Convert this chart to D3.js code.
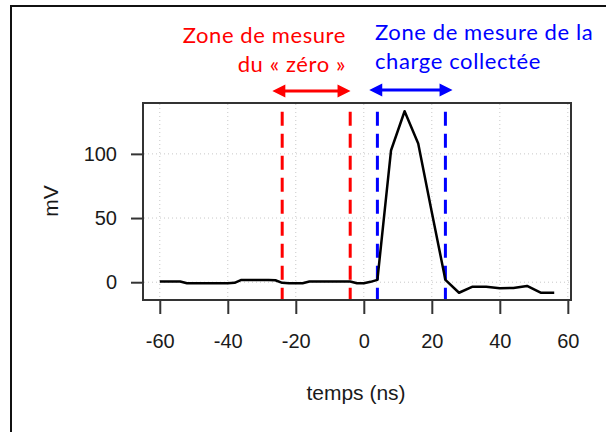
<!doctype html>
<html lang="fr">
  <head>
    <meta charset="UTF-8" />
    <title>Signal - zones de mesure</title>
    <script src="https://unpkg.com/d3@7.9.0/dist/d3.min.js"></script>
    <style>
      body {
        margin: 0;
        background: #fff;
      }
      .tick text {
        font-family: 'Liberation Sans', Arial, sans-serif;
        font-size: 20px;
        fill: #1a1a1a;
      }
      .tick line {
        stroke: #333;
        stroke-width: 2;
      }
      .axis-title {
        font-family: 'Liberation Sans', Arial, sans-serif;
        font-size: 21px;
        fill: #1a1a1a;
      }
      .note {
        font-family: Lato, 'Open Sans', sans-serif;
        font-size: 22px;
        letter-spacing: 0.6px;
      }
      .grid line {
        stroke: #c8c8c8;
        stroke-width: 1;
        stroke-dasharray: 1, 3;
      }
    </style>
  </head>
  <body>
    <svg width="606" height="432"></svg>

    <script>
      // signal (ns, mV)
      const times = [
        -60, -58, -56, -54, -52, -50, -48, -46, -44, -42, -40, -38, -36, -34,
        -32, -30, -28, -26, -24, -22, -20, -18, -16, -14, -12, -10, -8, -6, -4,
        -2, 0, 2, 4, 8, 12, 16, 20, 24, 28, 32, 36, 40, 44, 48, 52, 56,
      ];
      const millivolts = [
        0.5, 0.5, 0.5, 0.5, -0.8, -0.8, -0.8, -0.8, -0.8, -0.8, -0.8, -0.5, 1.8,
        1.8, 1.8, 1.8, 1.8, 1.5, -0.5, -0.8, -0.8, -0.8, 0.5, 0.5, 0.5, 0.5,
        0.5, 0.5, 0.5, -0.8, -0.8, 0.3, 1.8, 102.6, 133.2, 108, 54.5, 1.8, -8.2,
        -3.5, -3.5, -4.7, -4.5, -2.9, -8.2, -8.2,
      ];

      const xTicks = [-60, -40, -20, 0, 20, 40, 60];
      const yTicks = [0, 50, 100];

      // zones
      const zeroZone = [-24, -4];
      const chargeZone = [4, 24];
      const zeroArrow = [-26.9, -3.9];
      const chargeArrow = [1.6, 26.1];
      const zeroLabel = ['Zone de mesure', 'du « zéro »'];
      const chargeLabel = ['Zone de mesure de la', 'charge collectée'];

      const svg = d3.select('svg');
      const box = { left: 144, right: 570, top: 104, bottom: 300 };

      // cadre extérieur
      svg
        .append('rect')
        .attr('x', 11)
        .attr('y', 6)
        .attr('width', 700)
        .attr('height', 500)
        .attr('fill', 'none')
        .attr('stroke', '#111')
        .attr('stroke-width', 2);

      // échelles avec 4 % de marge comme R
      const pad = (ext) => {
        const d = (ext[1] - ext[0]) * 0.04;
        return [ext[0] - d, ext[1] + d];
      };
      const x = d3
        .scaleLinear()
        .domain(pad(d3.extent(times)))
        .range([box.left, box.right]);
      const y = d3
        .scaleLinear()
        .domain(pad(d3.extent(millivolts)))
        .range([box.bottom, box.top]);

      // grille
      const grid = svg.append('g').attr('class', 'grid');
      grid
        .selectAll('.gx')
        .data(xTicks)
        .enter()
        .append('line')
        .attr('x1', (d) => x(d))
        .attr('x2', (d) => x(d))
        .attr('y1', box.top)
        .attr('y2', box.bottom);
      grid
        .selectAll('.gy')
        .data(yTicks)
        .enter()
        .append('line')
        .attr('x1', box.left)
        .attr('x2', box.right)
        .attr('y1', (d) => y(d))
        .attr('y2', (d) => y(d));

      // axes
      svg
        .append('g')
        .attr('transform', `translate(0,${box.bottom})`)
        .call(
          d3
            .axisBottom(x)
            .tickValues(xTicks)
            .tickSize(14)
            .tickPadding(20)
            .tickFormat((d) => String(d)),
        )
        .call((g) => g.select('.domain').remove());

      svg
        .append('g')
        .attr('transform', `translate(${box.left},0)`)
        .call(
          d3
            .axisLeft(y)
            .tickValues(yTicks)
            .tickSize(13)
            .tickPadding(14)
            .tickFormat((d) => String(d)),
        )
        .call((g) => g.select('.domain').remove());

      svg
        .append('text')
        .attr('class', 'axis-title')
        .attr('x', 356)
        .attr('y', 400)
        .attr('text-anchor', 'middle')
        .text('temps (ns)');

      svg
        .append('text')
        .attr('class', 'axis-title')
        .attr('transform', 'translate(58,201) rotate(-90)')
        .attr('text-anchor', 'middle')
        .text('mV');

      // lignes verticales des zones
      const zones = [
        { xs: zeroZone, color: '#ff0000' },
        { xs: chargeZone, color: '#0000ff' },
      ];
      zones.forEach((z) => {
        svg
          .selectAll(null)
          .data(z.xs)
          .enter()
          .append('line')
          .attr('x1', (d) => x(d))
          .attr('x2', (d) => x(d))
          .attr('y1', box.top)
          .attr('y2', box.bottom)
          .attr('stroke', z.color)
          .attr('stroke-width', 3)
          .attr('stroke-dasharray', '14,8')
          .attr('stroke-dashoffset', 14.3);
      });

      // signal
      const line = d3
        .line()
        .x((d, i) => x(times[i]))
        .y((d) => y(d));
      svg
        .append('path')
        .datum(millivolts)
        .attr('d', line)
        .attr('fill', 'none')
        .attr('stroke', '#000')
        .attr('stroke-width', 2.5)
        .attr('stroke-linejoin', 'round');

      // cadre du graphique
      svg
        .append('rect')
        .attr('x', box.left - 1)
        .attr('y', box.top - 1)
        .attr('width', box.right - box.left + 2)
        .attr('height', box.bottom - box.top + 1)
        .attr('fill', 'none')
        .attr('stroke', '#333')
        .attr('stroke-width', 2);

      // flèches doubles
      function arrow(xs, yPos, color) {
        const x0 = x(xs[0]),
          x1 = x(xs[1]),
          L = 13,
          w = 6.5;
        const g = svg.append('g');
        g.append('line')
          .attr('x1', x0 + 6)
          .attr('x2', x1 - 6)
          .attr('y1', yPos)
          .attr('y2', yPos)
          .attr('stroke', color)
          .attr('stroke-width', 3);
        g.append('path')
          .attr(
            'd',
            `M${x0},${yPos}L${x0 + L},${yPos - w}L${x0 + L},${yPos + w}Z` +
              `M${x1},${yPos}L${x1 - L},${yPos - w}L${x1 - L},${yPos + w}Z`,
          )
          .attr('fill', color);
      }
      arrow(zeroArrow, 91, '#ff0000');
      arrow(chargeArrow, 90, '#0000ff');

      // annotations
      svg
        .append('text')
        .attr('class', 'note')
        .attr('fill', '#ff0000')
        .attr('text-anchor', 'end')
        .selectAll('tspan')
        .data(zeroLabel)
        .enter()
        .append('tspan')
        .attr('x', 346)
        .attr('y', (d, i) => 42.5 + i * 29)
        .text((d) => d);

      svg
        .append('text')
        .attr('class', 'note')
        .attr('fill', '#0000ff')
        .selectAll('tspan')
        .data(chargeLabel)
        .enter()
        .append('tspan')
        .attr('x', 375)
        .attr('y', (d, i) => 40 + i * 29)
        .text((d) => d);
    </script>
  </body>
</html>
